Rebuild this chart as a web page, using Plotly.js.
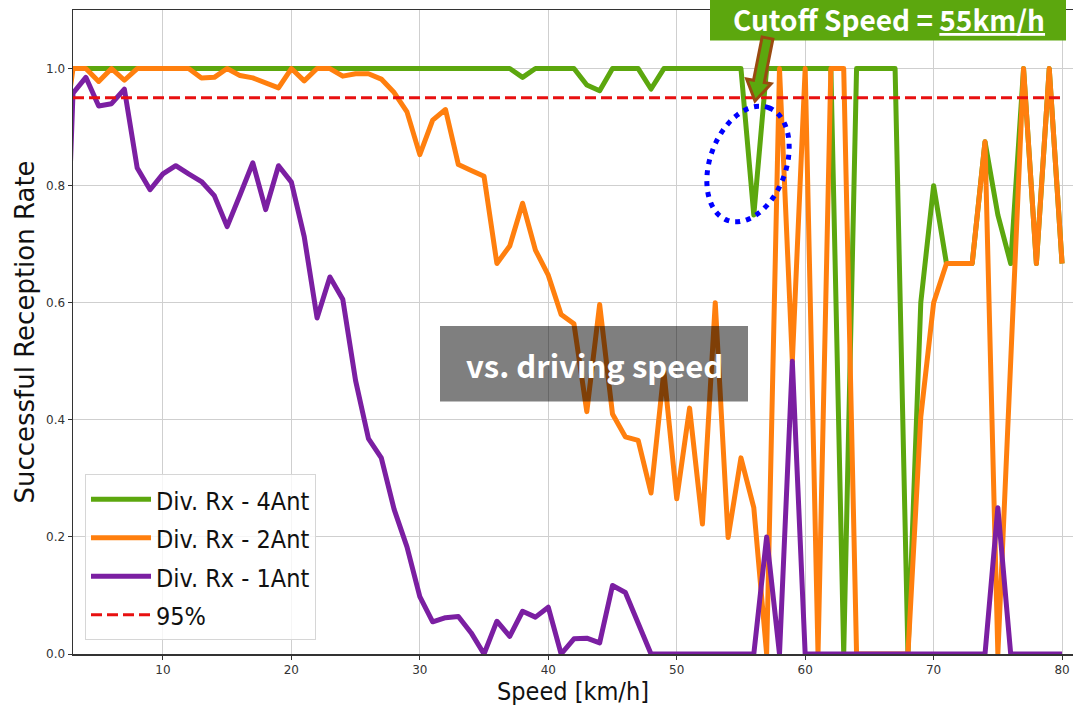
<!DOCTYPE html>
<html>
<head>
<meta charset="utf-8">
<script src="https://cdn.plot.ly/plotly-3.0.1.min.js"></script>
<style>
  html, body { margin: 0; padding: 0; background: #fff; }
  #chart { width: 1074px; height: 708px; }
  .js-line { stroke-linejoin: round !important; }
</style>
</head>
<body>
<div id="chart"></div>
<script>
// ---- data ----
const speed = [2,3,4,5,6,7,8,9,10,11,
  12,13,14,15,16,17,18,19,20,21,
  22,23,24,25,26,27,28,29,30,31,
  32,33,34,35,36,37,38,39,40,41,
  42,43,44,45,46,47,48,49,50,51,
  52,53,54,55,56,57,58,59,60,61,
  62,63,64,65,66,67,68,69,70,71,
  72,73,74,75,76,77,78,79,80];

const rx4Ant = [1,1,1,1,1,1,1,1,1,1,
  1,1,1,1,1,1,1,1,1,1,
  1,1,1,1,1,1,1,1,1,1,
  1,1,1,1,1,1,0.985,1,1,1,
  1,0.972,0.962,1,1,1,0.965,1,1,1,
  1,1,1,1,0.75,1,1,1,1,1,
  1,0,1,1,1,1,0,0.6,0.8,0.667,
  0.667,0.667,0.875,0.75,0.667,1,0.667,1,0.667];

const rx2Ant = [0.84,1,1,0.978,1,0.98,1,1,1,1,
  1,0.984,0.985,1,0.988,0.984,0.975,0.967,1,0.979,
  1,1,0.987,0.991,0.991,0.982,0.959,0.926,0.853,0.912,
  0.93,0.836,0.826,0.816,0.667,0.697,0.77,0.69,0.647,0.58,
  0.564,0.414,0.597,0.41,0.371,0.365,0.275,0.483,0.265,0.42,
  0.222,0.6,0.199,0.335,0.25,0,1,0.5,1,0,
  1,1,0,0,0,0,0,0.405,0.6,0.667,
  0.667,0.667,0.875,0,0.5,1,0.667,1,0.667];

const rx1Ant = [0.35,0.958,0.985,0.936,0.94,0.965,0.83,0.793,0.82,0.834,
  0.82,0.807,0.783,0.73,0.784,0.839,0.759,0.834,0.806,0.713,
  0.574,0.644,0.606,0.467,0.368,0.335,0.247,0.183,0.098,0.055,
  0.062,0.064,0.036,0,0.056,0.03,0.073,0.063,0.08,0,
  0.026,0.027,0.019,0.117,0.105,0.052,0,0,0,0,
  0,0,0,0,0,0.2,0,0.5,0,0,
  0,0,0,0,0,0,0,0,0,0,
  0,0,0,0.25,0,0,0,0,0];

const thresholdValue = 0.95;
const thresholdSpan = [3, 80];

const seriesNames = ['Div. Rx - 4Ant', 'Div. Rx - 2Ant', 'Div. Rx - 1Ant', '95%'];
const xTicks = [10,20,30,40,50,60,70,80];
const yTicks = [0,0.2,0.4,0.6,0.8,1.0];

// ---- styling ----
const GREEN = '#5ca70e', ORANGE = '#ff7f0e', PURPLE = '#7b1fa2', RED = '#e81010';
const LEG = n => '<span style="font-size:25px">' + n + '</span>';

const traces = [
  {x: speed, y: rx4Ant, name: LEG(seriesNames[0]), mode: 'lines', line: {color: GREEN, width: 5}},
  {x: speed, y: rx2Ant, name: LEG(seriesNames[1]), mode: 'lines', line: {color: ORANGE, width: 5}},
  {x: speed, y: rx1Ant, name: LEG(seriesNames[2]), mode: 'lines', line: {color: PURPLE, width: 5}},
  {x: thresholdSpan, y: thresholdSpan.map(() => thresholdValue), name: LEG(seriesNames[3]), mode: 'lines',
   line: {color: RED, width: 3, dash: '11px,5px'}}
];

// pixel -> paper helpers (plot area: x 73..1073, y 10..654)
const PL = 73, PW = 1000, PB = 654, PH = 644;
const px = v => (v - PL) / PW;
const py = v => (PB - v) / PH;

// tilted ellipse (blue dotted)
function ellipsePath(cx, cy, a, b, thetaDeg) {
  const t = thetaDeg * Math.PI / 180;
  const ux = Math.sin(t), uy = -Math.cos(t);
  const vx = Math.cos(t), vy = Math.sin(t);
  let d = '';
  for (let i = 0; i <= 96; i++) {
    const p = 2 * Math.PI * i / 96;
    const X = cx + a * Math.cos(p) * ux + b * Math.sin(p) * vx;
    const Y = cy + a * Math.cos(p) * uy + b * Math.sin(p) * vy;
    d += (i === 0 ? 'M' : 'L') + px(X).toFixed(5) + ',' + py(Y).toFixed(5);
  }
  return d + 'Z';
}

// block arrow
function arrowPath(sx, sy, tx, ty, headLen, shaftHW, headHW) {
  const L = Math.hypot(tx - sx, ty - sy);
  const dx = (tx - sx) / L, dy = (ty - sy) / L;
  const nx = -dy, ny = dx;
  const bx = tx - dx * headLen, by = ty - dy * headLen;
  const pts = [
    [sx + nx * shaftHW, sy + ny * shaftHW],
    [bx + nx * shaftHW, by + ny * shaftHW],
    [bx + nx * headHW, by + ny * headHW],
    [tx, ty],
    [bx - nx * headHW, by - ny * headHW],
    [bx - nx * shaftHW, by - ny * shaftHW],
    [sx - nx * shaftHW, sy - ny * shaftHW]
  ];
  return pts.map((p, i) => (i ? 'L' : 'M') + px(p[0]).toFixed(5) + ',' + py(p[1]).toFixed(5)).join('') + 'Z';
}

const shapes = [
  {type: 'rect', xref: 'paper', yref: 'paper', x0: px(440), x1: px(748), y0: py(401.5), y1: py(326),
   fillcolor: 'rgba(0,0,0,0.5)', line: {width: 0}, layer: 'above'},
  {type: 'path', xref: 'paper', yref: 'paper', path: ellipsePath(748, 164, 60, 38, 20),
   line: {color: '#0000ff', width: 5, dash: '5px,6px'}, fillcolor: 'rgba(0,0,0,0)', layer: 'above'},
  {type: 'rect', xref: 'paper', yref: 'paper', x0: px(710), x1: px(1066), y0: py(40.5), y1: py(-2),
   fillcolor: GREEN, line: {width: 0}, layer: 'above'},
  {type: 'path', xref: 'paper', yref: 'paper', path: arrowPath(767.5, 38, 755, 101, 20, 5.5, 12.5),
   fillcolor: GREEN, line: {color: '#9a4a10', width: 3}, layer: 'above'}
];

const annotations = [
  {xref: 'paper', yref: 'paper', x: px(889), y: py(19), xanchor: 'center', yanchor: 'middle',
   text: '<b>Cutoff Speed = <u>55km/h</u></b>', showarrow: false,
   font: {family: 'Noto Sans CJK KR', size: 28, color: '#ffffff'}},
  {xref: 'paper', yref: 'paper', x: px(594), y: py(364), xanchor: 'center', yanchor: 'middle',
   text: '<b>vs. driving speed</b>', showarrow: false,
   font: {family: 'Noto Sans CJK KR', size: 31, color: '#ffffff'}}
];

const layout = {
  width: 1074, height: 708,
  margin: {l: 73, r: 1, t: 10, b: 54, pad: 0},
  paper_bgcolor: '#ffffff', plot_bgcolor: '#ffffff',
  showlegend: true,
  legend: {x: px(85), y: py(474), xanchor: 'left', yanchor: 'top',
    bgcolor: 'rgba(255,255,255,0.8)', bordercolor: '#d6d6d6', borderwidth: 1,
    font: {family: 'DejaVu Sans Condensed', size: 27.3, color: '#111'},
    itemwidth: 60, tracegroupgap: 0},
  xaxis: {
    range: [3, 80.85], tickvals: xTicks, ticktext: xTicks.map(String),
    showgrid: true, gridcolor: '#cfcfcf', gridwidth: 1,
    showline: true, linecolor: '#333', linewidth: 1.5, mirror: true,
    ticks: 'outside', ticklen: 4, tickcolor: '#333', zeroline: false,
    tickfont: {family: 'DejaVu Sans', size: 12, color: '#333'},
    title: {text: 'Speed [km/h]', standoff: 4, font: {family: 'DejaVu Sans Condensed', size: 25, color: '#111'}}
  },
  yaxis: {
    range: [0, 1.1], tickvals: yTicks, ticktext: yTicks.map(v => v.toFixed(1)),
    showgrid: true, gridcolor: '#cfcfcf', gridwidth: 1,
    showline: true, linecolor: '#333', linewidth: 1.5, mirror: false,
    ticks: 'outside', ticklen: 4, tickcolor: '#333', zeroline: false,
    tickfont: {family: 'DejaVu Sans', size: 12, color: '#333'},
    title: {text: 'Successful Reception Rate', standoff: 4, font: {family: 'DejaVu Sans', size: 26, color: '#111'}}
  },
  shapes: shapes,
  annotations: annotations
};

Plotly.newPlot('chart', traces, layout, {displayModeBar: false, staticPlot: true});
</script>
</body>
</html>
